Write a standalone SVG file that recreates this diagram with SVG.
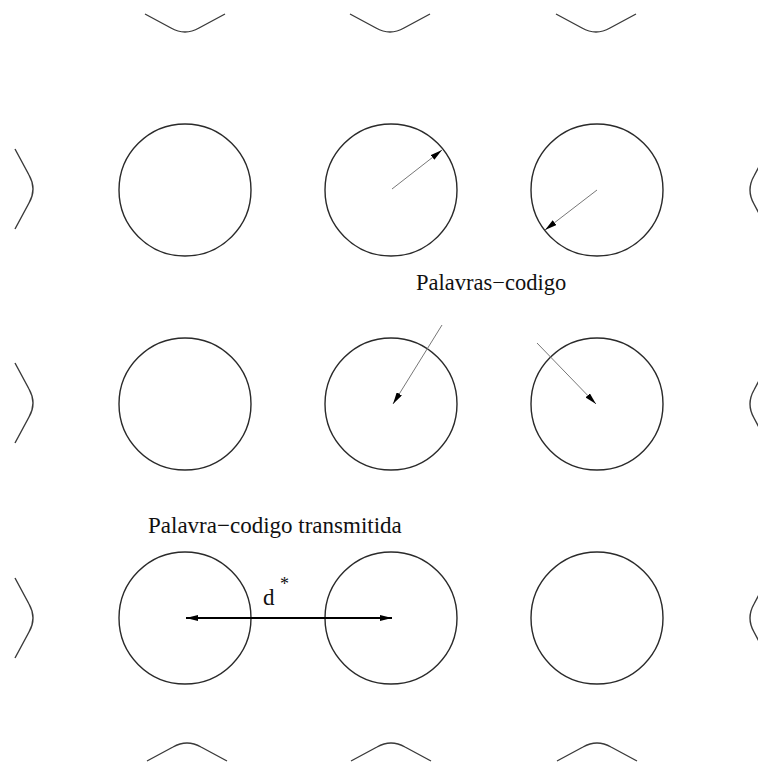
<svg xmlns="http://www.w3.org/2000/svg" width="758" height="766" viewBox="0 0 758 766">
<style>
.c{fill:none;stroke:#2a2a2a;stroke-width:1.4}
.a{fill:none;stroke:#3a3a3a;stroke-width:1.4}
.p{fill:none;stroke:#777;stroke-width:1}
.d{fill:none;stroke:#000;stroke-width:2}
.t{font-family:"Liberation Serif","Times New Roman",serif;fill:#111}
</style>
<defs>
<marker id="ah" viewBox="0 0 12 6" refX="12" refY="3" markerWidth="12" markerHeight="6" markerUnits="userSpaceOnUse" orient="auto">
<path d="M0,0 L12,3 L0,6 Z" fill="#000"/>
</marker>
<marker id="ahs" viewBox="0 0 12 6" refX="12" refY="3" markerWidth="12" markerHeight="6" markerUnits="userSpaceOnUse" orient="auto-start-reverse">
<path d="M0,0 L12,3 L0,6 Z" fill="#000"/>
</marker>
<path id="top" class="a" d="M-40,0 L-14,14 Q0,22 14,14 L40,0"/>
<path id="bot" class="a" d="M-40,0 L-14,-14 Q0,-22 14,-14 L40,0"/>
<path id="lft" class="a" d="M0,-40 L14,-14 Q22,0 14,14 L0,40"/>
<path id="rgt" class="a" d="M0,-40 L-14,-14 Q-22,0 -14,14 L0,40"/>
</defs>
<g id="partial-arcs">
<use href="#top" x="185" y="14"/>
<use href="#top" x="390" y="14"/>
<use href="#top" x="596" y="14"/>
<use href="#bot" x="187" y="761"/>
<use href="#bot" x="391" y="761"/>
<use href="#bot" x="597" y="761"/>
<use href="#lft" x="15" y="189"/>
<use href="#lft" x="15" y="403"/>
<use href="#lft" x="15" y="618"/>
<use href="#rgt" x="768" y="190"/>
<use href="#rgt" x="768" y="404"/>
<use href="#rgt" x="768" y="618"/>
</g>
<g id="c11"><circle class="c" cx="185" cy="190" r="66"/></g>
<g id="c12"><circle class="c" cx="391" cy="190" r="66"/></g>
<g id="c13"><circle class="c" cx="597" cy="190" r="66"/></g>
<g id="c21"><circle class="c" cx="185" cy="404" r="66"/></g>
<g id="c22"><circle class="c" cx="391" cy="404" r="66"/></g>
<g id="c23"><circle class="c" cx="597" cy="404" r="66"/></g>
<g id="c31"><circle class="c" cx="185" cy="618" r="66"/></g>
<g id="c32"><circle class="c" cx="391" cy="618" r="66"/></g>
<g id="c33"><circle class="c" cx="597" cy="618" r="66"/></g>
<g id="label-codewords"><text class="t" x="416" y="290" font-size="22.5">Palavras−codigo</text></g>
<g id="label-transmitted"><text class="t" x="148" y="533" font-size="23">Palavra−codigo transmitida</text></g>
<g id="label-d"><text class="t" x="263" y="605" font-size="23">d</text><text class="t" x="280" y="590" font-size="18">*</text></g>
<g id="connectors">
<line class="p" x1="392" y1="189" x2="442" y2="150" marker-end="url(#ah)"/>
<line class="p" x1="597" y1="190" x2="545" y2="230" marker-end="url(#ah)"/>
<line class="p" x1="442" y1="325" x2="393" y2="404" marker-end="url(#ah)"/>
<line class="p" x1="537" y1="343" x2="596" y2="404" marker-end="url(#ah)"/>
<line class="d" x1="186" y1="618" x2="392" y2="618" marker-start="url(#ahs)" marker-end="url(#ahs)"/>
</g>
</svg>
